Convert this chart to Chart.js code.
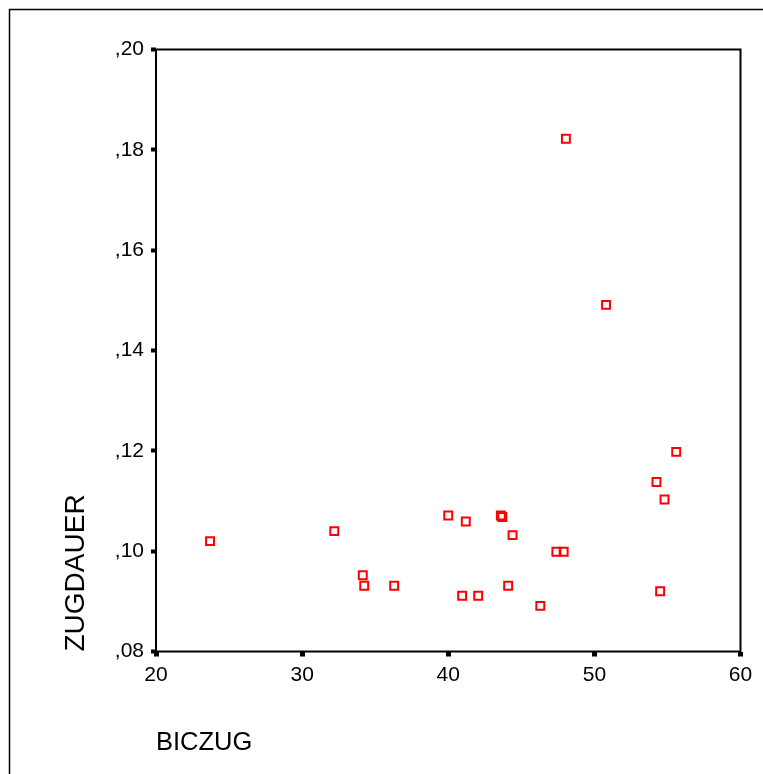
<!DOCTYPE html>
<html lang="de">
<head>
  <meta charset="UTF-8">
  <title>BICZUG / ZUGDAUER</title>
  <script src="https://cdn.jsdelivr.net/npm/chart.js"></script>
  <style>
    html, body { margin: 0; padding: 0; background: #fff; overflow: hidden; }
    canvas { display: block; }
  </style>
</head>
<body>
  <canvas id="scatter" width="763" height="774"></canvas>

  <script>
    // Messwerte: BICZUG (x) gegen ZUGDAUER (y)
    const bicZug = [23.7, 32.2, 34.15, 34.25, 36.3, 40.0, 41.2, 40.95, 42.05, 43.7, 43.6,
                    44.4, 44.1, 46.3, 47.4, 47.9, 48.05, 50.8, 54.25, 54.8, 54.5, 55.6];
    const zugDauer = [0.102, 0.104, 0.0952, 0.0931, 0.0931, 0.1071, 0.1059, 0.0911, 0.0911, 0.1068, 0.1071,
                      0.1032, 0.0931, 0.0891, 0.0999, 0.0999, 0.1822, 0.1491, 0.1138, 0.1103, 0.0920, 0.1198];

    // Achsenbeschriftung
    const xTickLabels = ['20', '30', '40', '50', '60'];
    const yTickLabels = [',08', ',10', ',12', ',14', ',16', ',18', ',20'];

    const FONT = "'Liberation Sans', Arial, sans-serif";

    const points = bicZug.map((x, i) => ({ x: x, y: zugDauer[i] }));

    // outer frame + box around the plot area
    const framePlugin = {
      id: 'framePlugin',
      beforeDraw(chart) {
        const ctx = chart.ctx;
        ctx.save();
        ctx.fillStyle = '#fff';
        ctx.fillRect(0, 0, chart.width, chart.height);
        ctx.strokeStyle = '#000';
        ctx.lineWidth = 1.5;
        ctx.beginPath();
        ctx.moveTo(9.5, chart.height + 5);
        ctx.lineTo(9.5, 9.5);
        ctx.lineTo(chart.width + 5, 9.5);
        ctx.stroke();
        ctx.restore();
      },
      afterDraw(chart) {
        const a = chart.chartArea;
        const ctx = chart.ctx;
        ctx.save();
        ctx.strokeStyle = '#000';
        ctx.lineWidth = 2;
        ctx.strokeRect(a.left, a.top, a.right - a.left, a.bottom - a.top);
        ctx.restore();
      }
    };

    new Chart(document.getElementById('scatter'), {
      type: 'scatter',
      data: {
        datasets: [{
          data: points,
          pointStyle: 'rect',
          pointRadius: 5.6,
          pointHoverRadius: 5.6,
          pointBorderWidth: 2,
          borderColor: '#ff0000',
          backgroundColor: 'rgba(255,255,255,0)'
        }]
      },
      options: {
        responsive: false,
        animation: false,
        devicePixelRatio: 1,
        layout: { padding: { left: 0, top: 49.5, right: 22.5, bottom: 0 } },
        plugins: {
          legend: { display: false },
          tooltip: { enabled: false }
        },
        scales: {
          x: {
            type: 'linear',
            min: 20,
            max: 60,
            afterFit: s => { s.height = 122.5; },
            border: { display: false },
            grid: {
              drawOnChartArea: false,
              drawTicks: true,
              tickLength: 5,
              tickWidth: 5,
              tickColor: '#000'
            },
            ticks: {
              stepSize: 10,
              autoSkip: false,
              maxRotation: 0,
              padding: 6,
              color: '#000',
              font: { family: FONT, size: 21 },
              callback: (v, i) => xTickLabels[i]
            },
            title: {
              display: true,
              text: 'BICZUG',
              align: 'start',
              color: '#000',
              font: { family: FONT, size: 25.5 },
              padding: { top: 0, bottom: 16 }
            }
          },
          y: {
            type: 'linear',
            min: 0.08,
            max: 0.20,
            afterFit: s => { s.width = 156; },
            border: { display: false },
            grid: {
              drawOnChartArea: false,
              drawTicks: true,
              tickLength: 5,
              tickWidth: 4,
              tickColor: '#000'
            },
            ticks: {
              stepSize: 0.02,
              autoSkip: false,
              padding: 7,
              color: '#000',
              font: { family: FONT, size: 21 },
              callback: (v, i) => yTickLabels[i]
            },
            title: {
              display: true,
              text: 'ZUGDAUER',
              align: 'start',
              color: '#000',
              font: { family: FONT, size: 28 },
              padding: { top: 59, bottom: 0 }
            }
          }
        }
      },
      plugins: [framePlugin]
    });
  </script>
</body>
</html>
